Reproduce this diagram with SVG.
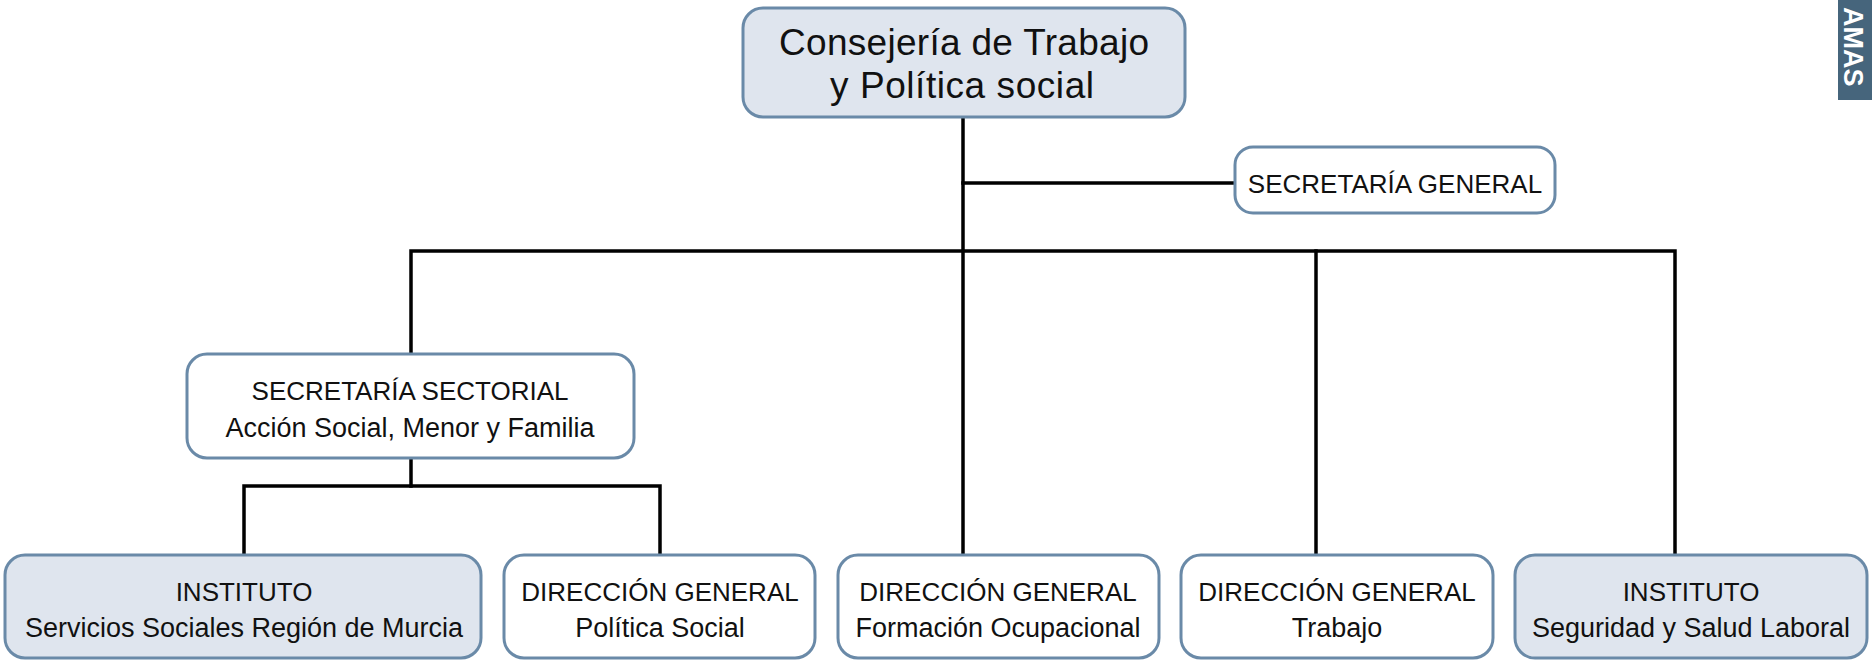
<svg xmlns="http://www.w3.org/2000/svg" width="1872" height="661" viewBox="0 0 1872 661">
<style>
.node{stroke:#6a8aa8;stroke-width:3;fill:#ffffff}
.fill{fill:#dfe5ee}
.t{font-family:"Liberation Sans",Arial,sans-serif;fill:#111;text-anchor:middle}
.s{font-size:26px}
.m{font-size:27px}
.big{font-size:37px}
.conn{stroke:#000;stroke-width:3.5;fill:none;stroke-linecap:square}
</style>
<rect width="1872" height="661" fill="#ffffff"/>
<g id="connectors">
<path class="conn" d="M963 117 V555"/>
<path class="conn" d="M963 183 H1235"/>
<path class="conn" d="M411 354 V251 H1675 V555"/>
<path class="conn" d="M1316 251 V555"/>
<path class="conn" d="M411 458 V486"/>
<path class="conn" d="M244 555 V486 H660 V555"/>
</g>
<g id="consejeria">
<rect class="node fill" x="743" y="8" width="442" height="109" rx="20"/>
<text class="t big" x="964" y="55" textLength="370">Consejería de Trabajo</text>
<text class="t big" x="962" y="98" textLength="264">y Política social</text>
</g>
<g id="secretaria-general">
<rect class="node" x="1235" y="147" width="320" height="66" rx="18"/>
<text class="t s" x="1395" y="193">SECRETARÍA GENERAL</text>
</g>
<g id="secretaria-sectorial">
<rect class="node" x="187" y="354" width="447" height="104" rx="20"/>
<text class="t s" x="410" y="400">SECRETARÍA SECTORIAL</text>
<text class="t m" x="410" y="437">Acción Social, Menor y Familia</text>
</g>
<g id="instituto-servicios-sociales">
<rect class="node fill" x="5" y="555" width="476" height="103" rx="20"/>
<text class="t s" x="244" y="601">INSTITUTO</text>
<text class="t m" x="244" y="637">Servicios Sociales Región de Murcia</text>
</g>
<g id="dg-politica-social">
<rect class="node" x="504" y="555" width="311" height="103" rx="20"/>
<text class="t s" x="660" y="601">DIRECCIÓN GENERAL</text>
<text class="t m" x="660" y="637">Política Social</text>
</g>
<g id="dg-formacion-ocupacional">
<rect class="node" x="838" y="555" width="321" height="103" rx="20"/>
<text class="t s" x="998" y="601">DIRECCIÓN GENERAL</text>
<text class="t m" x="998" y="637">Formación Ocupacional</text>
</g>
<g id="dg-trabajo">
<rect class="node" x="1181" y="555" width="312" height="103" rx="20"/>
<text class="t s" x="1337" y="601">DIRECCIÓN GENERAL</text>
<text class="t m" x="1337" y="637">Trabajo</text>
</g>
<g id="instituto-seguridad-salud">
<rect class="node fill" x="1515" y="555" width="352" height="103" rx="20"/>
<text class="t s" x="1691" y="601">INSTITUTO</text>
<text class="t m" x="1691" y="637">Seguridad y Salud Laboral</text>
</g>
<g id="tab">
<rect x="1838" y="0" width="34" height="100" fill="#46657c"/>
<text transform="translate(1844 7) rotate(90)" font-family="'Liberation Sans',Arial,sans-serif" font-weight="bold" font-size="27" fill="#ffffff">AMAS</text>
</g>
</svg>
